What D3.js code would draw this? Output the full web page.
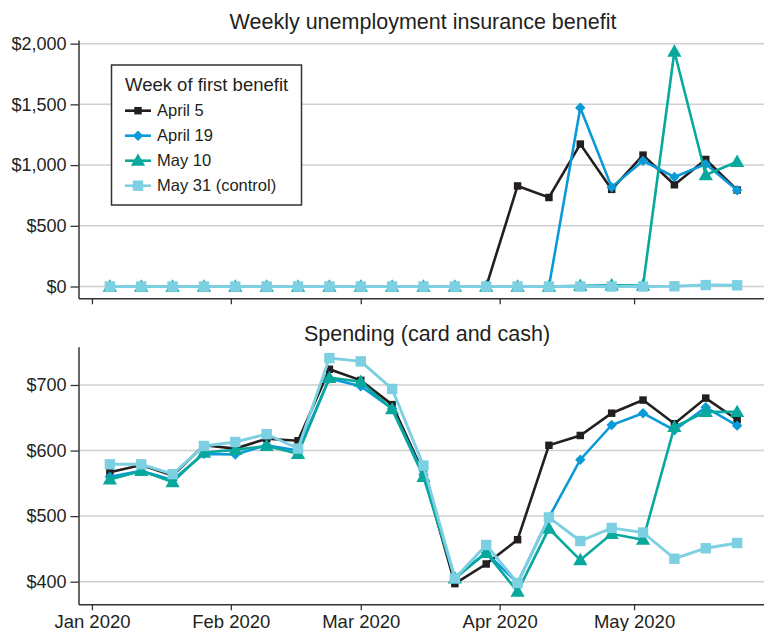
<!DOCTYPE html>
<html>
<head>
<meta charset="utf-8">
<script src="https://cdn.jsdelivr.net/npm/d3@7"></script>
<style>
  html, body { margin: 0; padding: 0; background: #fff; }
  svg { display: block; font-family: "Liberation Sans", Arial, Helvetica, sans-serif; }
</style>
</head>
<body>
<svg id="chart" width="764" height="631"></svg>
<script>
// Weekly observation dates (week starting Sunday)
const weeks = [
  "2020-01-05","2020-01-12","2020-01-19","2020-01-26",
  "2020-02-02","2020-02-09","2020-02-16","2020-02-23",
  "2020-03-01","2020-03-08","2020-03-15","2020-03-22","2020-03-29",
  "2020-04-05","2020-04-12","2020-04-19","2020-04-26",
  "2020-05-03","2020-05-10","2020-05-17","2020-05-24"
];

// Cohorts by week of first benefit
const cohortNames = ["April 5", "April 19", "May 10", "May 31 (control)"];
const cohortColors = ["#231f20", "#0b9ad8", "#08a89d", "#7dcfe2"];

// Weekly unemployment insurance benefit ($)
const benefitApr5  = [0,0,0,0,0,0,0,0,0,0,0,0,0, 828,733,1173,800,1082,838,1046,795];
const benefitApr19 = [0,0,0,0,0,0,0,0,0,0,0,0,0, 0,0,1472,818,1035,902,1008,793];
const benefitMay10 = [0,0,0,0,0,0,0,0,0,0,0,0,0, 0,0,6,10,8,1935,918,1027];
const benefitMay31 = [0,0,0,0,0,0,0,0,0,0,0,0,0, 0,0,0,0,0,2,12,10];

// Spending, card and cash ($)
const spendApr5  = [567,578,562,608,603,618,615,724,707,670,566,397,427,464,608,623,657,677,641,680,647];
const spendApr19 = [560,569,555,595,594,608,600,710,698,664,563,407,444,398,498,586,639,657,631,666,638];
const spendMay10 = [556,569,552,597,601,607,595,711,705,663,560,405,444,385,481,433,473,464,636,659,659];
const spendMay31 = [579,579,564,607,613,625,603,741,736,694,577,405,456,398,498,462,482,475,435,451,459];

// Axis ticks
const benefitTicks = [0, 500, 1000, 1500, 2000];
const spendTicks = [400, 500, 600, 700];
const monthTicks = ["2020-01-01","2020-02-01","2020-03-01","2020-04-01","2020-05-01"];

const parse = d3.timeParse("%Y-%m-%d");
const dates = weeks.map(parse);
const monthDates = monthTicks.map(parse);

const svg = d3.select("#chart");
const left = 78.5, right = 764;

const x = d3.scaleTime()
  .domain([parse("2019-12-29"), parse("2020-05-30")])
  .range([left, right]);

// marker per cohort: square, diamond (rotated square), triangle, large square
const symbols = [
  { type: d3.symbolSquare,   size: 56,  rotate: 0 },
  { type: d3.symbolSquare,   size: 54,  rotate: 45 },
  { type: d3.symbolTriangle, size: 88,  rotate: 0 },
  { type: d3.symbolSquare,   size: 108, rotate: 0 }
];

function markerTransform(k, cx, cy) {
  const dy = k === 2 ? 1 : 0;
  return `translate(${cx},${cy + dy}) rotate(${symbols[k].rotate})`;
}

function panel(opts) {
  const { y, ticks, series, title, titleX, titleY, xLabels } = opts;
  const g = svg.append("g");

  // gridlines
  g.append("g").selectAll("line").data(ticks).join("line")
    .attr("x1", left).attr("x2", right)
    .attr("y1", d => y(d)).attr("y2", d => y(d))
    .attr("stroke", "#cfcfcf").attr("stroke-width", 1.5);

  // y axis
  const yAxis = g.append("g")
    .attr("transform", `translate(${left},0)`)
    .call(d3.axisLeft(y).tickValues(ticks).tickFormat(d3.format("$,")).tickSize(8).tickPadding(4).tickSizeOuter(0));
  yAxis.selectAll("text").attr("font-size", 18).attr("fill", "#231f20");

  // x axis
  const xAxis = g.append("g")
    .attr("transform", `translate(0,${y.range()[0]})`)
    .call(d3.axisBottom(x).tickValues(monthDates).tickFormat(xLabels ? d3.timeFormat("%b %Y") : "").tickSize(6).tickPadding(5).tickSizeOuter(0));
  xAxis.selectAll("text").attr("font-size", 18.5).attr("fill", "#231f20");

  [yAxis, xAxis].forEach(a => {
    a.select(".domain").attr("stroke", "#333").attr("stroke-width", 1.5);
    a.selectAll(".tick line").attr("stroke", "#333").attr("stroke-width", 1.3);
  });

  const line = d3.line().x((d, i) => x(dates[i])).y(d => y(d));

  series.forEach((vals, k) => {
    const s = g.append("g");
    s.append("path").datum(vals)
      .attr("d", line)
      .attr("fill", "none")
      .attr("stroke", cohortColors[k])
      .attr("stroke-width", k === 3 ? 2.9 : 2.6)
      .attr("stroke-linejoin", "miter");
    s.selectAll("path.pt").data(vals).join("path")
      .attr("class", "pt")
      .attr("transform", (d, i) => markerTransform(k, x(dates[i]), y(d)))
      .attr("d", d3.symbol().type(symbols[k].type).size(symbols[k].size))
      .attr("fill", cohortColors[k]);
  });

  g.append("text")
    .attr("x", titleX).attr("y", titleY)
    .attr("text-anchor", "middle")
    .attr("font-size", 21.5).attr("fill", "#231f20")
    .text(title);
  return g;
}

const yTop = d3.scaleLinear().domain([-97, 2030]).range([298.3, 40]);
const yBot = d3.scaleLinear().domain([365.5, 758.4]).range([604.3, 346.7]);

panel({
  y: yTop, ticks: benefitTicks,
  series: [benefitApr5, benefitApr19, benefitMay10, benefitMay31],
  title: "Weekly unemployment insurance benefit", titleX: 423, titleY: 29,
  xLabels: false
});

panel({
  y: yBot, ticks: spendTicks,
  series: [spendApr5, spendApr19, spendMay10, spendMay31],
  title: "Spending (card and cash)", titleX: 427, titleY: 341,
  xLabels: true
});

// Legend
const lg = svg.append("g");
lg.append("rect")
  .attr("x", 111.5).attr("y", 65).attr("width", 190).attr("height", 140)
  .attr("fill", "#fff").attr("stroke", "#333").attr("stroke-width", 1.5);
lg.append("text")
  .attr("x", 125).attr("y", 91)
  .attr("font-size", 18.5).attr("fill", "#231f20")
  .text("Week of first benefit");
const items = lg.selectAll("g.item").data(cohortNames).join("g")
  .attr("class", "item")
  .attr("transform", (d, i) => `translate(0,${110.7 + i * 25})`);
items.append("line")
  .attr("x1", 125).attr("x2", 151)
  .attr("stroke", (d, i) => cohortColors[i]).attr("stroke-width", 2.6);
items.append("path")
  .attr("transform", (d, i) => markerTransform(i, 138, 0))
  .attr("d", (d, i) => d3.symbol().type(symbols[i].type).size(symbols[i].size)())
  .attr("fill", (d, i) => cohortColors[i]);
items.append("text")
  .attr("x", 157).attr("dy", "0.35em")
  .attr("font-size", 16.5).attr("fill", "#231f20")
  .text(d => d);
</script>
</body>
</html>
